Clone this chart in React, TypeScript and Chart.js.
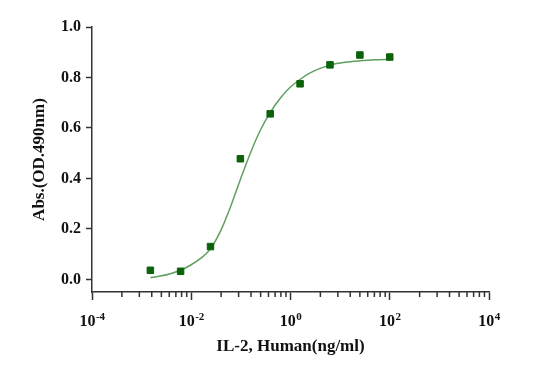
import React, { useEffect, useRef } from 'react';
import { Chart, registerables } from 'chart.js';

Chart.register(...registerables);

// Measured points: IL-2 concentration (ng/ml) and absorbance
const concX = [0.0015, 0.0061, 0.0244, 0.0977, 0.39, 1.56, 6.25, 25, 100];
const absY = [0.036, 0.032, 0.13, 0.478, 0.656, 0.775, 0.85, 0.889, 0.881];

// Fitted curve
const fitX = [0.0015, 0.00239, 0.00379, 0.00604, 0.0096, 0.0152, 0.0242, 0.0386, 0.0612, 0.0973, 0.155, 0.245, 0.391, 0.621, 0.986, 1.57, 2.49, 3.96, 6.3, 12.6, 25.2, 50.6, 101];
const fitY = [0.007, 0.013, 0.022, 0.036, 0.056, 0.082, 0.12, 0.19, 0.285, 0.395, 0.5, 0.59, 0.662, 0.718, 0.761, 0.793, 0.818, 0.836, 0.849, 0.86, 0.866, 0.87, 0.872];

// Axis ticks
const yTicks = [0, 0.2, 0.4, 0.6, 0.8, 1.0];
const xMajorExp = [-4, -2, 0, 2, 4];
const xExpLabels = ['-4', '-2', '0', '2', '4'];
const xMinorMult = [4, 9, 16, 25, 36, 49, 64, 81];

const xTitle = 'IL-2, Human(ng/ml)';
const yTitle = 'Abs.(OD.490nm)';

const FONT = "'Liberation Serif', 'Times New Roman', serif";
const AXIS = '#333333';
const TEXT = '#111111';

const axisDecor = {
  id: 'axisDecor',
  afterDraw(chart: any) {
    const ctx = chart.ctx as CanvasRenderingContext2D;
    const xs = chart.scales.x;
    const y0 = chart.chartArea.bottom;
    ctx.save();
    ctx.strokeStyle = AXIS;
    ctx.lineWidth = 1.5;
    for (let i = 0; i < xMajorExp.length - 1; i++) {
      const base = Math.pow(10, xMajorExp[i]);
      for (const m of xMinorMult) {
        const px = xs.getPixelForValue(base * m);
        ctx.beginPath();
        ctx.moveTo(px, y0);
        ctx.lineTo(px, y0 + 5);
        ctx.stroke();
      }
    }
    ctx.fillStyle = TEXT;
    ctx.textBaseline = 'alphabetic';
    ctx.textAlign = 'left';
    const baseY = y0 + 34;
    xMajorExp.forEach((e, i) => {
      const px = xs.getPixelForValue(Math.pow(10, e));
      ctx.font = `bold 16px ${FONT}`;
      const w1 = ctx.measureText('10').width;
      ctx.font = `bold 11px ${FONT}`;
      const w2 = ctx.measureText(xExpLabels[i]).width;
      const start = px - (w1 + w2) / 2;
      ctx.font = `bold 16px ${FONT}`;
      ctx.fillText('10', start, baseY);
      ctx.font = `bold 11px ${FONT}`;
      ctx.fillText(xExpLabels[i], start + w1 + 0.5, baseY - 6);
    });
    ctx.restore();
  },
};

export default function App() {
  const ref = useRef<HTMLCanvasElement | null>(null);

  useEffect(() => {
    if (!ref.current) return;
    const chart = new Chart(ref.current, {
      type: 'scatter',
      data: {
        datasets: [
          {
            label: 'points',
            data: concX.map((x, i) => ({ x, y: absY[i] })),
            pointStyle: 'rect',
            pointRadius: 4.6,
            pointHoverRadius: 4.6,
            backgroundColor: '#0b620b',
            borderColor: '#0b620b',
            borderWidth: 1,
            showLine: false,
          },
          {
            label: 'fit',
            data: fitX.map((x, i) => ({ x, y: fitY[i] })),
            showLine: true,
            pointRadius: 0,
            borderColor: '#5f9f5f',
            borderWidth: 1.5,
            cubicInterpolationMode: 'monotone',
            fill: false,
          },
        ],
      },
      options: {
        animation: false,
        responsive: true,
        maintainAspectRatio: false,
        layout: { padding: { left: 0, right: 46, top: 27, bottom: 0 } },
        plugins: {
          legend: { display: false },
          tooltip: { enabled: false },
        },
        scales: {
          x: {
            type: 'logarithmic',
            min: 1e-4,
            max: 1e4,
            afterBuildTicks: (scale: any) => {
              scale.ticks = xMajorExp.map((e) => ({ value: Math.pow(10, e) }));
            },
            afterFit: (scale: any) => {
              scale.height = 75;
            },
            grid: {
              drawOnChartArea: false,
              drawTicks: true,
              tickLength: 8,
              tickColor: AXIS,
              tickWidth: 1.5,
            },
            border: { display: true, color: AXIS, width: 1.5 },
            ticks: { display: false },
            title: {
              display: true,
              text: xTitle,
              color: TEXT,
              font: { family: FONT, size: 17, weight: 'bold' },
              padding: { top: 0, bottom: 10 },
            },
          },
          y: {
            type: 'linear',
            min: -0.05,
            max: 1.0,
            afterBuildTicks: (scale: any) => {
              scale.ticks = yTicks.map((v) => ({ value: v }));
            },
            afterFit: (scale: any) => {
              scale.width = 92;
            },
            grid: {
              drawOnChartArea: false,
              drawTicks: true,
              tickLength: 6,
              tickColor: AXIS,
              tickWidth: 1.5,
            },
            border: { display: true, color: AXIS, width: 1.5 },
            ticks: {
              color: TEXT,
              padding: 5,
              font: { family: FONT, size: 16, weight: 'bold' },
              callback: (v: any) => Number(v).toFixed(1),
            },
            title: {
              display: true,
              text: yTitle,
              color: TEXT,
              font: { family: FONT, size: 17, weight: 'bold' },
              padding: { top: 29, bottom: 0 },
            },
          },
        },
      },
      plugins: [axisDecor],
    });
    return () => chart.destroy();
  }, []);

  return (
    <div style={{ position: 'fixed', left: 0, top: 0, width: '535px', height: '367px', background: '#fff' }}>
      <canvas ref={ref} />
    </div>
  );
}
